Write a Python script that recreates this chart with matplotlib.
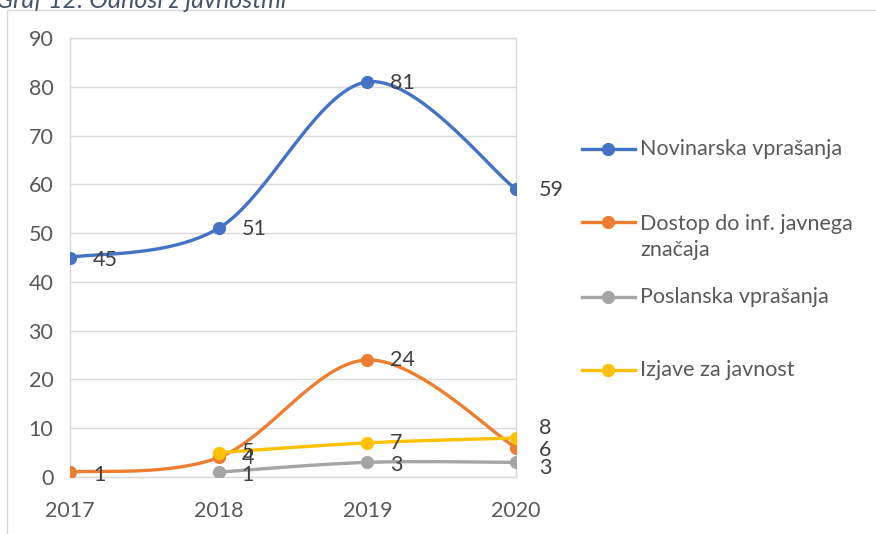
import numpy as np
import matplotlib.pyplot as plt
from matplotlib.lines import Line2D
from matplotlib.patches import Rectangle

plt.rcParams['font.family'] = ['Lato', 'DejaVu Sans']

years = [2017, 2018, 2019, 2020]
novinarska = [45, 51, 81, 59]
dostop = [1, 4, 24, 6]
poslanska = [None, 1, 3, 3]
izjave = [None, 5, 7, 8]

names = ['Novinarska vprašanja', 'Dostop do inf. javnega\nznačaja',
         'Poslanska vprašanja', 'Izjave za javnost']
colors = ['#4472C4', '#ED7D31', '#A5A5A5', '#FFC000']
# label nudges in pixels (down is positive), one per point
nudges = [[3, 1, 1, 1], [3, 1, 0, 2], [0, 3, 3, 6], [0, -1, 0, -10]]

W, H = 876, 534
FS = 15.5
fig = plt.figure(figsize=(W / 100, H / 100), dpi=100)
ax = fig.add_axes([70 / W, 1 - 477 / H, (516 - 70) / W, (477 - 38) / H])


def smooth(x, y, n=40):
    # excel-like smoothed line (bezier through points)
    x = np.asarray(x, float)
    y = np.asarray(y, float)
    px = np.concatenate([[x[0]], x, [x[-1]]])
    py = np.concatenate([[y[0]], y, [y[-1]]])
    xs, ys = [], []
    t = np.linspace(0, 1, n)
    for i in range(1, len(px) - 2):
        p0 = np.array([px[i], py[i]])
        p3 = np.array([px[i + 1], py[i + 1]])
        p1 = p0 + (np.array([px[i + 1], py[i + 1]]) - np.array([px[i - 1], py[i - 1]])) / 6
        p2 = p3 - (np.array([px[i + 2], py[i + 2]]) - np.array([px[i], py[i]])) / 6
        b = ((1 - t) ** 3)[:, None] * p0 + (3 * (1 - t) ** 2 * t)[:, None] * p1 \
            + (3 * (1 - t) * t ** 2)[:, None] * p2 + (t ** 3)[:, None] * p3
        xs.extend(b[:, 0])
        ys.extend(b[:, 1])
    return xs, ys


series = [novinarska, dostop, poslanska, izjave]
for vals, c, nd in zip(series, colors, nudges):
    xx = [yr for yr, v in zip(years, vals) if v is not None]
    yy = [v for v in vals if v is not None]
    sx, sy = smooth(xx, yy)
    ax.plot(sx, sy, color=c, lw=2.4, solid_capstyle='round', zorder=3)
    ax.plot(xx, yy, 'o', color=c, ms=8.5, zorder=4)
    for i, (yr, v) in enumerate(zip(years, vals)):
        if v is None:
            continue
        ax.annotate(str(v), (yr, v), xytext=(23, -nd[i]),
                    textcoords='offset pixels', va='center', ha='left',
                    fontsize=FS, color='#404040', zorder=5)

ax.set_xlim(2017, 2020)
ax.set_ylim(0, 90)
ax.set_xticks(years)
ax.set_yticks(range(0, 91, 10))
ax.tick_params(length=0, labelsize=FS, labelcolor='#595959')
ax.tick_params(axis='y', pad=12)
ax.tick_params(axis='x', pad=17)
ax.grid(axis='y', color='#D9D9D9', lw=1)
for s in ax.spines.values():
    s.set_color('#D9D9D9')
    s.set_linewidth(1)
ax.set_axisbelow(True)

# legend drawn by hand to follow the uneven spacing
rows = [149, 222, 297, 370]
for name, c, yy in zip(names, colors, rows):
    fy = 1 - yy / H
    fig.add_artist(Line2D([582 / W, 635 / W], [fy, fy], color=c, lw=2.4,
                          transform=fig.transFigure))
    fig.add_artist(Line2D([608 / W], [fy], marker='o', color=c, ms=8.5,
                          transform=fig.transFigure))
    nlines = name.count('\n') + 1
    ty = 1 - (yy + (nlines - 1) * 15) / H
    fig.text(640 / W, ty, name, va='center', ha='left', fontsize=FS,
             color='#595959', linespacing=1.4)

# chart border and cut-off title
fig.add_artist(Rectangle((7 / W, -0.1), 1.2, 1 - 9.5 / H + 0.1, fill=False,
                         ec='#D9D9D9', lw=1, transform=fig.transFigure))
fig.text(-0.004, 1 - 8 / H, 'Graf 12: Odnosi z javnostmi', style='italic',
         fontsize=18, color='#44546A', va='baseline', ha='left')

fig.savefig('out.png', dpi=100)
